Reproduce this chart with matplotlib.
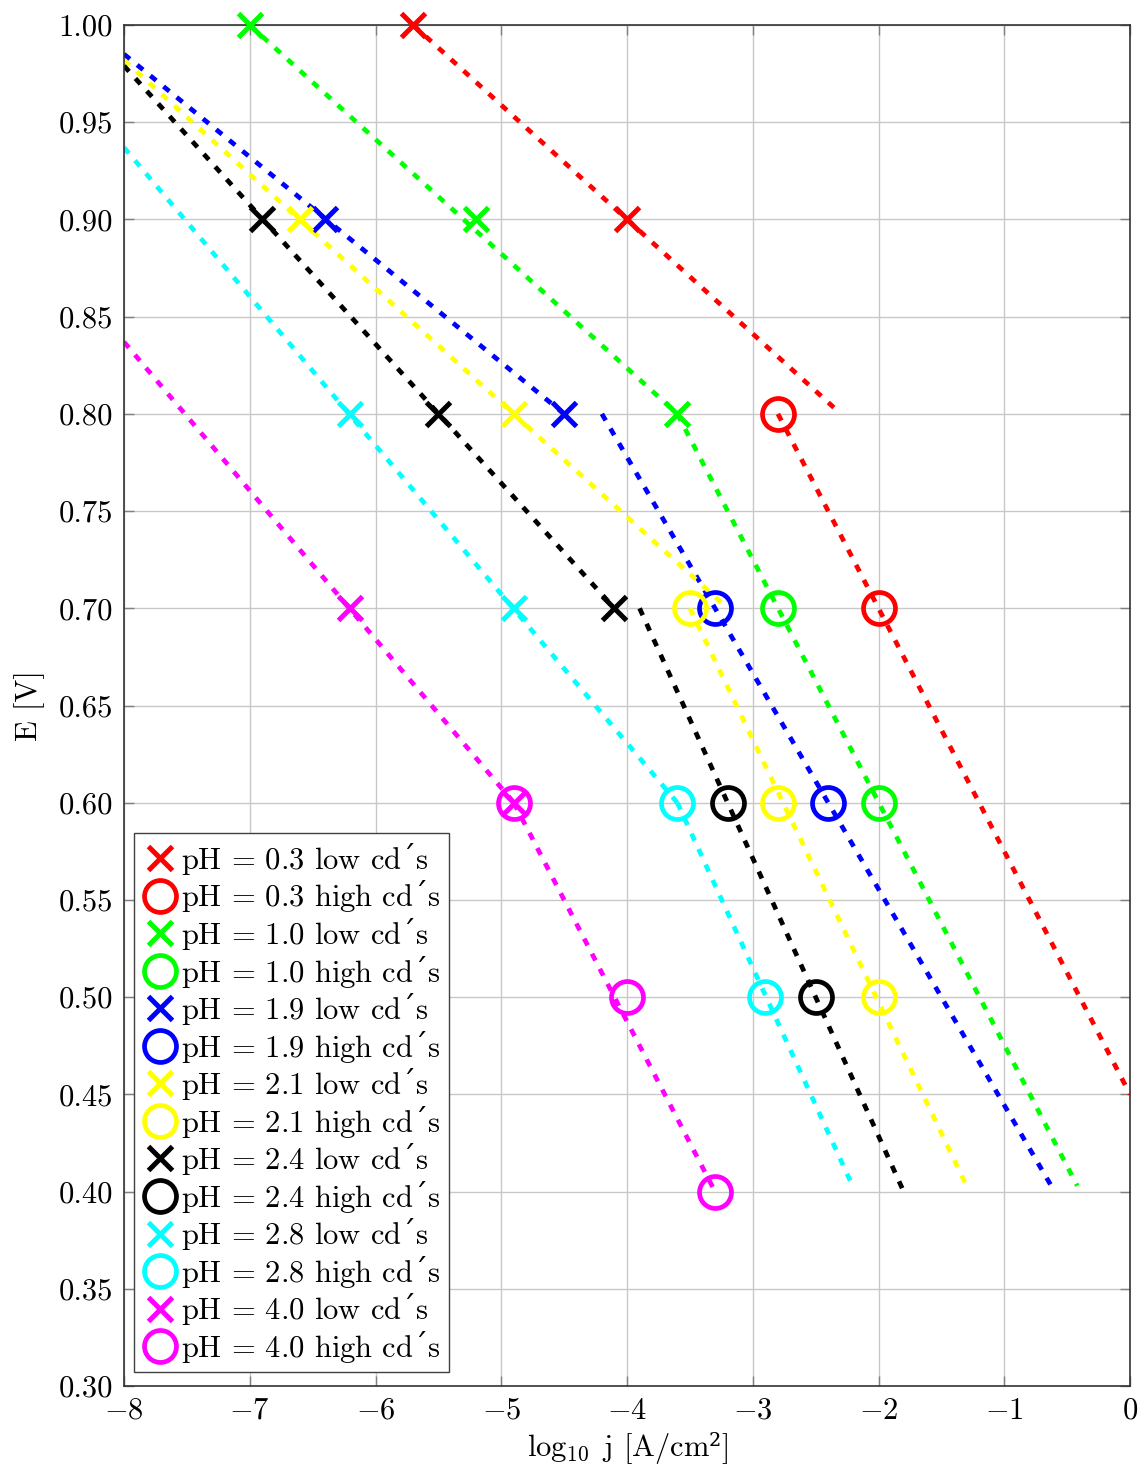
import matplotlib.pyplot as plt
from matplotlib.ticker import FormatStrFormatter, MultipleLocator

plt.rcParams['font.family'] = ['cmr10', 'DejaVu Serif']
plt.rcParams['mathtext.fontset'] = 'custom'
plt.rcParams['mathtext.rm'] = 'cmr10'
plt.rcParams['mathtext.sf'] = 'DejaVu Serif'
plt.rcParams['mathtext.fallback'] = 'cm'
plt.rcParams['axes.formatter.use_mathtext'] = True
plt.rcParams['axes.unicode_minus'] = True

# Tafel data: pH value, colour, low / high current density points and fit lines
ph_values = ["0.3", "1.0", "1.9", "2.1", "2.4", "2.8", "4.0"]
colors = ["#ff0000", "#00ff00", "#0000ff", "#ffff00", "#000000", "#00ffff", "#ff00ff"]

low_logj = [[-5.7, -4.0], [-7.0, -5.2, -3.6], [-6.4, -4.5], [-6.6, -4.9],
            [-6.9, -5.5, -4.1], [-6.2, -4.9], [-6.2, -4.9]]
low_E = [[1.0, 0.9], [1.0, 0.9, 0.8], [0.9, 0.8], [0.9, 0.8],
         [0.9, 0.8, 0.7], [0.8, 0.7], [0.7, 0.6]]

high_logj = [[-2.8, -2.0], [-2.8, -2.0], [-3.3, -2.4], [-3.5, -2.8, -2.0],
             [-3.2, -2.5], [-3.6, -2.9], [-4.9, -4.0, -3.3]]
high_E = [[0.8, 0.7], [0.7, 0.6], [0.7, 0.6], [0.7, 0.6, 0.5],
          [0.6, 0.5], [0.6, 0.5], [0.6, 0.5, 0.4]]

fit_low_logj = [[-5.7, -2.3], [-7.0, -3.6], [-8.0, -4.5], [-8.0, -3.2],
                [-8.0, -4.1], [-8.0, -3.6], [-8.0, -4.9]]
fit_low_E = [[1.0, 0.8], [1.0, 0.8], [0.985, 0.8], [0.982, 0.70],
             [0.979, 0.70], [0.937, 0.60], [0.837, 0.60]]

fit_high_logj = [[-2.8, 0.0], [-3.6, -0.42], [-4.2, -0.6], [-3.5, -1.3],
                 [-3.9, -1.8], [-3.6, -2.2], [-4.9, -3.3]]
fit_high_E = [[0.8, 0.45], [0.8, 0.403], [0.8, 0.4], [0.7, 0.403],
              [0.7, 0.4], [0.6, 0.402], [0.6, 0.4]]

# the acute in "cd´s" comes from DejaVu Serif (cmr10 maps U+00B4 to another glyph)
acute = r"$\mathsf{´}$"

fig = plt.figure(figsize=(11.44, 14.72), dpi=100)
ax = fig.add_axes([0.1084, 0.0584, 0.8794, 0.9246])

dots = (0, (1.6, 2.0))
for i, ph in enumerate(ph_values):
    c = colors[i]
    ax.plot(fit_low_logj[i], fit_low_E[i], color=c, lw=3.4, ls=dots, zorder=2)
    ax.plot(fit_high_logj[i], fit_high_E[i], color=c, lw=3.4, ls=dots, zorder=2)
    ax.plot(low_logj[i], low_E[i], ls='none', marker='x', ms=17, mew=3.6,
            color=c, clip_on=False, zorder=3,
            label=f"pH = {ph} low cd{acute}s")
    ax.plot(high_logj[i], high_E[i], ls='none', marker='o', ms=23, mew=3.4,
            mfc='none', mec=c, clip_on=False, zorder=3,
            label=f"pH = {ph} high cd{acute}s")

ax.set_xlim(-8, 0)
ax.set_ylim(0.30, 1.00)
ax.xaxis.set_major_locator(MultipleLocator(1))
ax.yaxis.set_major_locator(MultipleLocator(0.05))
ax.yaxis.set_major_formatter(FormatStrFormatter('%.2f'))
ax.grid(True, color='#c8c8c8', lw=1.0)
ax.set_axisbelow(True)
ax.tick_params(direction='in', length=7, width=1, color='#808080',
               top=True, right=True, labelsize=22, pad=8)
for s in ax.spines.values():
    s.set_linewidth(1.2)
    s.set_color('#333333')

ax.set_xlabel(r"$\log_{10}$ j [A/cm$\mathsf{²}$]", fontsize=22, labelpad=4)
ax.set_ylabel("E [V]", fontsize=22, labelpad=10)

leg = ax.legend(loc='lower left', bbox_to_anchor=(0.01, 0.01), borderaxespad=0,
                fontsize=22, frameon=True, fancybox=False, framealpha=1,
                edgecolor='#404040', labelspacing=0.05, handlelength=1.2,
                handletextpad=0.1, borderpad=0.25)
leg.get_frame().set_linewidth(1.0)

fig.savefig("out.png", dpi=100)
